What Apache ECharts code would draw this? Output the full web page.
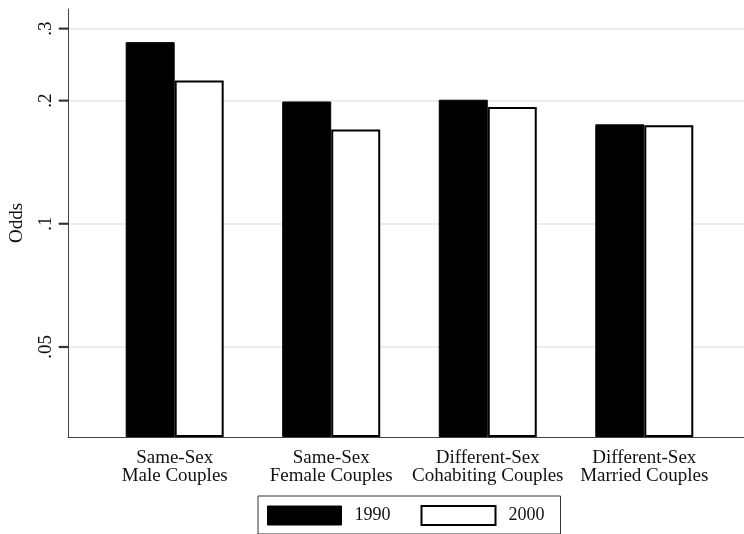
<!DOCTYPE html>
<html>
<head>
<meta charset="utf-8">
<script src="https://cdn.jsdelivr.net/npm/echarts@6/dist/echarts.min.js"></script>
<style>
  html, body { margin: 0; padding: 0; background: #fff; }
  #main { width: 744px; height: 534px; }
</style>
</head>
<body>
<div id="main"></div>
<script>
// categories and values (odds, log scale)
var categories = ['Same-Sex\nMale Couples', 'Same-Sex\nFemale Couples', 'Different-Sex\nCohabiting Couples', 'Different-Sex\nMarried Couples'];
var catPos = [1, 2, 3, 4];
var odds1990 = [0.278, 0.199, 0.201, 0.175];
var odds2000 = [0.224, 0.170, 0.193, 0.174];
var yTicks = [0.05, 0.1, 0.2, 0.3];

var dom = document.getElementById('main');
var myChart = echarts.init(dom, null, { renderer: 'canvas' });
var serif = 'Liberation Serif';
var yMin = 0.0301, yMax = 0.335;

function pairs(vals) {
    return vals.map(function (v, i) { return [catPos[i], v]; });
}

var option = {
    animation: false,
    textStyle: { fontFamily: serif },
    grid: { left: 66, right: 0, top: 9, bottom: 97, containLabel: false },
    xAxis: {
        type: 'value',
        min: 0.3185,
        max: 4.637,
        splitLine: { show: false },
        axisTick: { show: false },
        axisLine: { show: true, lineStyle: { color: '#444', width: 1 } },
        axisLabel: {
            customValues: catPos,
            formatter: function (v) { return categories[Math.round(v) - 1] || ''; },
            fontFamily: serif, fontSize: 19, lineHeight: 18, color: '#111', margin: 12
        }
    },
    yAxis: {
        type: 'log',
        min: yMin,
        max: yMax,
        startValue: yMin,
        name: 'Odds',
        nameLocation: 'middle',
        nameRotate: 90,
        nameGap: 41,
        nameTextStyle: { fontFamily: serif, fontSize: 19, color: '#111' },
        axisLine: { show: true, lineStyle: { color: '#444', width: 1 } },
        // tick values drive the grid lines
        axisTick: { show: true, length: 9, customValues: yTicks, lineStyle: { color: '#333', width: 1.2 } },
        splitLine: { show: true, lineStyle: { color: '#e6e6e6', width: 1.5 } },
        axisLabel: {
            customValues: yTicks,
            rotate: 90,
            margin: 0,
            // label text plus a small tick mark drawn as a rich-text box next to the axis
            formatter: function (v) {
                return '{v|' + String(+(+v).toPrecision(2)).replace(/^0/, '') + '}\n{tk|}';
            },
            rich: {
                v: { fontFamily: serif, fontSize: 19, lineHeight: 19, color: '#111', padding: [0, 0, 6, 0] },
                tk: { width: 1, height: 9, lineHeight: 9, backgroundColor: '#333', borderColor: '#333', borderWidth: 0.5 }
            }
        }
    },
    legend: {
        left: 258,
        top: 496,
        orient: 'horizontal',
        padding: [9, 16, 8, 9],
        borderColor: '#333',
        borderWidth: 1,
        itemWidth: 74,
        itemHeight: 19,
        itemGap: 30,
        icon: 'rect',
        textStyle: { fontFamily: serif, fontSize: 18, lineHeight: 19, color: '#111', padding: [0, 0, 0, 8] },
        data: [
            { name: '1990', itemStyle: { color: '#000', borderColor: '#000', borderWidth: 1 } },
            { name: '2000', itemStyle: { color: '#fff', borderColor: '#000', borderWidth: 2 } }
        ]
    },
    series: [
        {
            name: '1990',
            type: 'bar',
            barWidth: 49,
            barGap: '0%',
            data: pairs(odds1990),
            itemStyle: { color: '#000', borderColor: '#000', borderWidth: 1 }
        },
        {
            name: '2000',
            type: 'bar',
            barWidth: 49,
            barGap: '0%',
            data: pairs(odds2000),
            itemStyle: { color: '#fff', borderColor: '#000', borderWidth: 2 }
        }
    ]
};

myChart.setOption(option);
</script>
</body>
</html>
